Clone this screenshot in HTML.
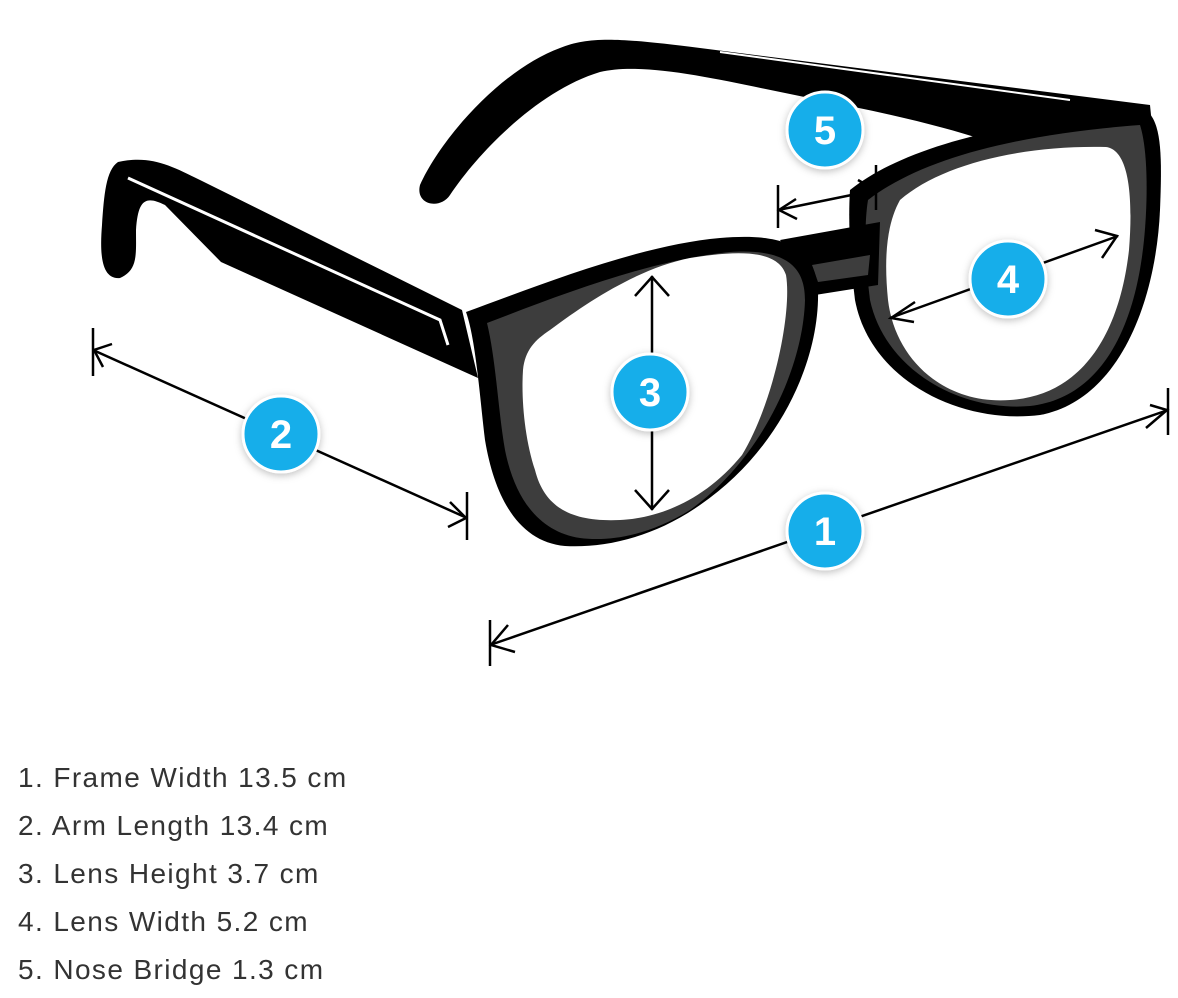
<!DOCTYPE html>
<html><head><meta charset="utf-8"><style>
html,body{margin:0;padding:0;background:#fff;}
body{width:1178px;height:998px;position:relative;overflow:hidden;}
svg{position:absolute;left:0;top:0;}
.t{position:absolute;left:18px;font-family:"Liberation Sans",sans-serif;font-size:28px;color:#333;letter-spacing:1.4px;line-height:30px;}
</style></head><body>
<svg width="1178" height="998" viewBox="0 0 1178 998">
<defs>
<filter id="sh" x="-50%" y="-50%" width="200%" height="200%"><feDropShadow dx="0" dy="2" stdDeviation="4" flood-color="#000" flood-opacity="0.25"/></filter>
</defs>
<path d="M420,185 C440,140 500,70 560,48 C590,36 620,38 700,48 L1150,105 L1152,125 L990,142 C940,125 880,112 820,100 C740,85 650,60 600,72 C540,90 480,150 450,195 C440,210 415,205 420,185 Z" fill="#000"/>
<path d="M720,52 L1070,100" stroke="#fff" stroke-width="2"/>
<path d="M118,162 C150,155 170,165 200,180 L462,310 L478,378 L221,262 L165,205 C145,195 138,200 136,230 C136,255 138,270 120,278 C100,280 100,250 102,225 C104,195 106,170 118,162 Z" fill="#000"/>
<path d="M128,178 L440,320 L448,345" stroke="#fff" stroke-width="3" fill="none"/>
<path d="M850,190 C900,150 1000,120 1148,112 C1162,125 1162,160 1160,210 C1156,300 1120,400 1040,415 C960,425 870,380 855,300 C850,260 848,220 850,190 Z" fill="#000"/>
<path d="M868,200 C920,160 1010,135 1140,125 C1148,150 1148,200 1144,240 C1135,330 1100,398 1030,406 C960,412 885,370 870,300 C865,260 864,225 868,200 Z" fill="#3d3d3d"/>
<path d="M900,200 C940,165 1020,145 1106,147 C1130,150 1133,200 1129,250 C1120,330 1085,395 1010,400 C945,405 895,360 888,300 C884,260 886,225 900,200 Z" fill="#fff"/>
<path d="M780,240 L880,222 L878,285 L815,295 Z" fill="#000"/>
<path d="M812,265 L870,255 L868,275 L818,282 Z" fill="#3d3d3d"/>
<path d="M466,312 C540,285 640,245 720,238 C790,232 815,250 818,290 C820,360 780,450 700,505 C650,540 600,548 565,546 C520,542 495,500 485,440 C480,400 476,340 466,312 Z" fill="#000"/>
<path d="M487,323 C560,295 650,260 730,252 C790,248 805,270 805,300 C803,370 760,460 690,510 C650,535 610,542 580,538 C540,532 515,500 505,450 C498,410 496,360 487,323 Z" fill="#3d3d3d"/>
<path d="M550,330 C590,300 640,268 690,258 C740,250 778,250 786,275 C792,310 775,400 742,455 C705,500 660,518 620,520 C575,522 545,510 535,470 C525,440 521,400 523,370 C525,350 535,340 550,330 Z" fill="#fff"/>
<g stroke="#000" stroke-width="2.5" fill="none">
<line x1="490" y1="645" x2="1168" y2="410"/>
<line x1="490" y1="620" x2="490" y2="666"/>
<line x1="1168" y1="388" x2="1168" y2="435"/>
<path d="M508,625 L491,645 L515,652"/>
<path d="M1150,405 L1167,410 L1146,428"/>
<line x1="93" y1="350" x2="467" y2="518"/>
<line x1="93" y1="328" x2="93" y2="376"/>
<line x1="467" y1="492" x2="467" y2="540"/>
<path d="M112,344 L94,350 L103,367"/>
<path d="M450,502 L466,518 L448,527"/>
<line x1="652" y1="276" x2="652" y2="510"/>
<path d="M635,296 L652,277 L669,296"/>
<path d="M635,490 L652,509 L669,490"/>
<line x1="890" y1="318" x2="1118" y2="236"/>
<path d="M915,302 L891,318 L914,322"/>
<path d="M1095,230 L1117,236 L1102,258"/>
<line x1="778" y1="210" x2="876" y2="190"/>
<line x1="778" y1="185" x2="778" y2="228"/>
<line x1="876" y1="165" x2="876" y2="210"/>
<path d="M796,199 L779,210 L797,219"/>
<path d="M858,180 L875,190 L860,203"/>
</g>
<g filter="url(#sh)" fill="#17aeea" stroke="#fff" stroke-width="3">
<circle cx="825" cy="531" r="38"/>
<circle cx="281" cy="434" r="38"/>
<circle cx="650" cy="392" r="38"/>
<circle cx="1008" cy="279" r="38"/>
<circle cx="825" cy="130" r="38"/>
</g>
<g fill="#fff" font-family="Liberation Sans,sans-serif" font-weight="bold" font-size="40" text-anchor="middle">
<text x="825" y="545">1</text>
<text x="281" y="448">2</text>
<text x="650" y="406">3</text>
<text x="1008" y="293">4</text>
<text x="825" y="144">5</text>
</g>
</svg>
<div class="t" style="top:763px">1. Frame Width 13.5 cm</div>
<div class="t" style="top:811px">2. Arm Length 13.4 cm</div>
<div class="t" style="top:859px">3. Lens Height 3.7 cm</div>
<div class="t" style="top:907px">4. Lens Width 5.2 cm</div>
<div class="t" style="top:955px">5. Nose Bridge 1.3 cm</div>
</body></html>
